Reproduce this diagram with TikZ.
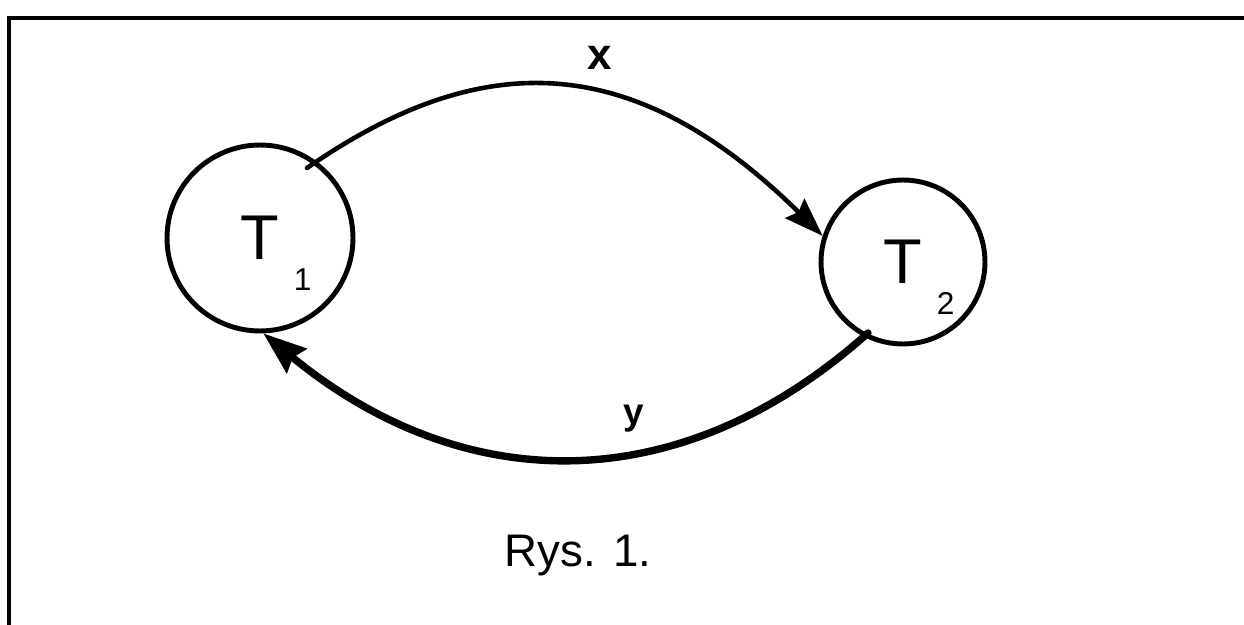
\documentclass[tikz,border=0pt]{standalone}
\usepackage{fontspec}
\setmainfont{Liberation Sans}
\usetikzlibrary{positioning, arrows.meta, calc}
\newcommand{\stsub}[1]{\rlap{\hspace{0.29cm}\raisebox{-0.61cm}[0pt][0pt]{\fontsize{18}{21}\selectfont #1}}}
\tikzset{
    state/.style={circle, draw=black, line width=2.8pt, inner sep=0pt, align=center, font=\fontsize{36}{40}\selectfont},
    arrx/.style={-{Stealth[length=0.78cm, width=0.54cm, inset=0.1cm]}, line width=2.6pt, line cap=round},
    arry/.style={-{Stealth[length=0.86cm, width=0.62cm, inset=0.1cm]}, line width=4.2pt, line cap=round},
    edgelbl/.style={font=\bfseries\fontsize{25}{28}\selectfont},
    caption/.style={font=\fontsize{26}{30}\selectfont},
    frameline/.style={line width=2pt}
}
\begin{document}
\begin{tikzpicture}[x=0.02cm, y=-0.02cm]
    \useasboundingbox (0,0) rectangle (1244,625);
    \draw[frameline] (9,640) |- (1260,18);
    \node[state, minimum size=3.72cm] (t1) at (260,238) {T\stsub{1}};
    \node[state, minimum size=3.28cm] (t2) at (903,262) {T\stsub{2}};
    \coordinate (xs) at ($(t1)+(47,-70)$);
    \coordinate (ys) at ($(t2)+(-35,71)$);
    \draw[arrx] (xs) .. controls (480,48) and (632,48) .. (t2.162);
    \draw[arry] (ys) .. controls (678,503) and (461,496) .. (t1.272);
    \node[edgelbl] (lx) at (600,58) {x};
    \node[edgelbl, font=\bfseries\fontsize{21}{24}\selectfont] (ly) at (634,419) {y};
    \node[caption] (rys) at (578,556) {Rys. 1.};
\end{tikzpicture}
\end{document}
